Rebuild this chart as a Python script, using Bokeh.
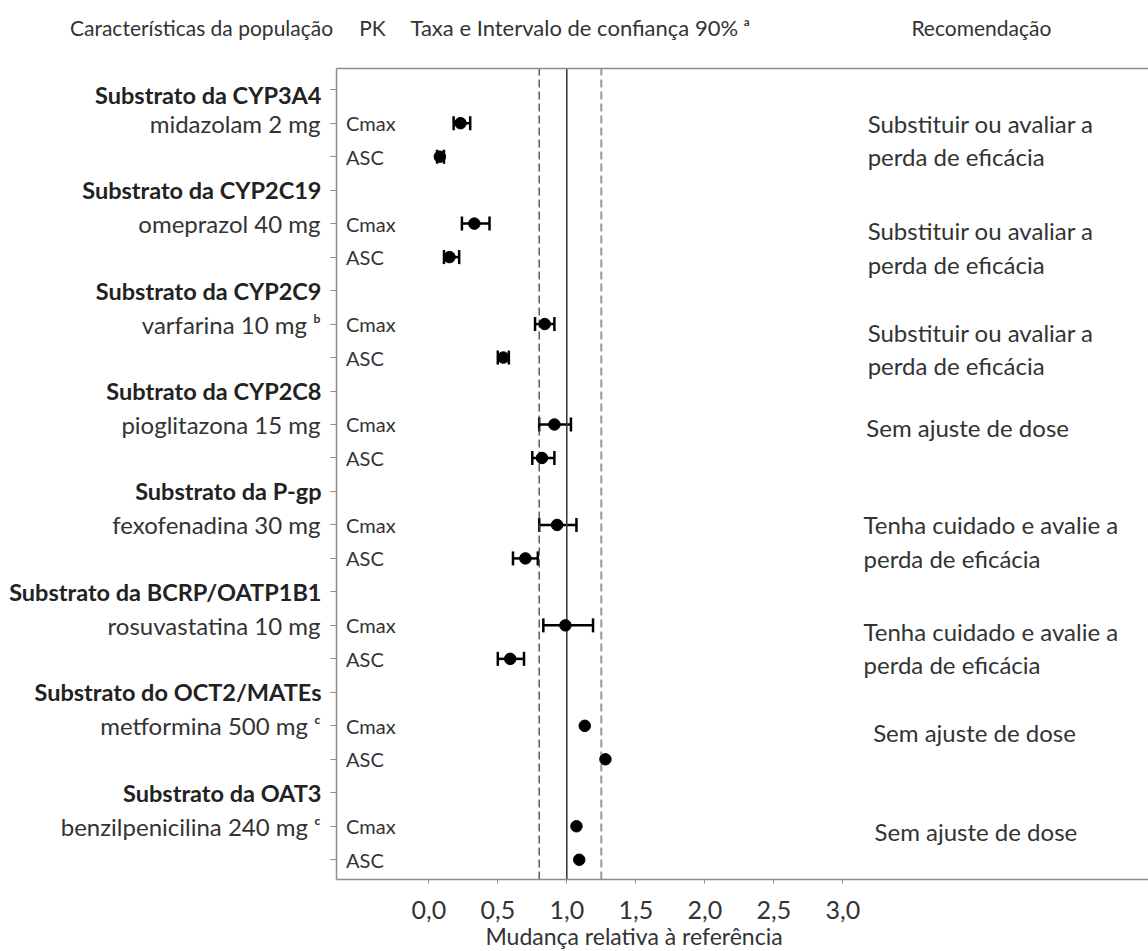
import math
from bokeh.plotting import figure
from bokeh.models import (ColumnDataSource, Range1d, FixedTicker, LinearAxis,
                          Whisker, TeeHead, CustomJSTickFormatter)
from bokeh.core.properties import value
from bokeh.embed import file_html
from bokeh.resources import INLINE

nan = float("nan")

# ---------------- data ----------------
groups = ["Substrato da CYP3A4", "Substrato da CYP2C19", "Substrato da CYP2C9",
          "Subtrato da CYP2C8", "Substrato da P-gp", "Substrato da BCRP/OATP1B1",
          "Substrato do OCT2/MATEs", "Substrato da OAT3"]
drugs = ["midazolam 2 mg", "omeprazol 40 mg", "varfarina 10 mg", "pioglitazona 15 mg",
         "fexofenadina 30 mg", "rosuvastatina 10 mg", "metformina 500 mg",
         "benzilpenicilina 240 mg"]
drug_notes = ["", "", "\u1d47", "", "", "", "\u1d9c", "\u1d9c"]
pk_params = ["Cmax", "ASC"]

cmax_ratio = [0.23, 0.33, 0.84, 0.91, 0.93, 0.99, 1.13, 1.07]
cmax_lo = [0.18, 0.24, 0.77, 0.80, 0.80, 0.83, nan, nan]
cmax_hi = [0.30, 0.44, 0.91, 1.03, 1.07, 1.19, nan, nan]
auc_ratio = [0.08, 0.15, 0.54, 0.82, 0.70, 0.59, 1.28, 1.09]
auc_lo = [0.06, 0.11, 0.50, 0.75, 0.61, 0.50, nan, nan]
auc_hi = [0.11, 0.22, 0.58, 0.91, 0.79, 0.69, nan, nan]

recommendations = [
    ["Substituir ou avaliar a", "perda de eficácia"],
    ["Substituir ou avaliar a", "perda de eficácia"],
    ["Substituir ou avaliar a", "perda de eficácia"],
    ["Sem ajuste de dose"],
    ["Tenha cuidado e avalie a", "perda de eficácia"],
    ["Tenha cuidado e avalie a", "perda de eficácia"],
    ["Sem ajuste de dose"],
    ["Sem ajuste de dose"],
]

x_ticks = [0.0, 0.5, 1.0, 1.5, 2.0, 2.5, 3.0]
ref_lines = [0.8, 1.0, 1.25]

col_headers = ["Características da população", "PK",
               "Taxa e Intervalo de confiança 90% \u1d43", "Recomendação"]
x_title = "Mudança relativa à referência"

# ---------------- layout (positions, not data) ----------------
hdr_rows = [3 * i for i in range(len(groups))]
cmax_rows = [3 * i + 1 for i in range(len(groups))]
asc_rows = [3 * i + 2 for i in range(len(groups))]
n_rows = 3 * len(groups)

BOX_L, BOX_R = -0.6688, 5.2152      # plotting box in data x
BOX_T, BOX_B = -0.633, 23.59        # plotting box in row units

rec_x = [3.18, 3.18, 3.18, 3.17, 3.15, 3.15, 3.22, 3.23]
rec_dy = [0.0, 0.21, 0.24, 0.09, 0.0, 0.18, 0.21, 0.15]
hdr_dy = [0.15, 0, 0, 0, 0, 0, 0, 0]
col_header_x = [-2.60, -0.504, -0.133, 3.497]
col_header_size = ["21px", "21px", "22px", "21px"]
col_header_y = -1.858
pk_x = -0.60
group_label_x = -0.7775
title_x, title_y = 1.487, 25.29

FONT = "Lato"
TXT = "#333333"
AX = "#8c8c8c"

p = figure(width=1148, height=951, output_backend="svg", toolbar_location=None,
           x_range=Range1d(-3.1036, 5.2152), y_range=Range1d(25.741, -2.6643),
           min_border_left=0, min_border_right=0, min_border_top=0,
           min_border_bottom=0)
p.outline_line_color = None
p.xgrid.visible = False
p.ygrid.visible = False

# x axis (drawn at the bottom of the plotting box)
xa = p.xaxis[0]
xa.fixed_location = BOX_B
xa.bounds = (BOX_L, BOX_R)
xa.ticker = FixedTicker(ticks=x_ticks)
xa.formatter = CustomJSTickFormatter(code="return tick.toFixed(1).replace('.', ',');")
xa.major_label_text_font = FONT
xa.major_label_text_font_size = "25px"
xa.major_label_text_color = TXT
xa.major_tick_out = 4
xa.major_tick_in = 0
xa.minor_tick_line_color = None
xa.major_tick_line_color = AX
xa.axis_line_color = AX
xa.axis_line_width = 1.5
xa.major_label_standoff = 18

# y axis with drug names
ya = p.yaxis[0]
ya.fixed_location = BOX_L
ya.bounds = (BOX_T, BOX_B)
ya.ticker = FixedTicker(ticks=list(range(n_rows)))
overrides = {}
for r in range(n_rows):
    overrides[r] = ""
for i, r in enumerate(cmax_rows):
    overrides[r] = drugs[i] + ((" " + drug_notes[i]) if drug_notes[i] else "")
ya.major_label_overrides = overrides
ya.major_label_text_font = FONT
ya.major_label_text_font_size = "24px"
ya.major_label_text_color = TXT
ya.major_tick_out = 6
ya.major_tick_in = 0
ya.minor_tick_line_color = None
ya.major_tick_line_color = AX
ya.axis_line_color = AX
ya.axis_line_width = 1.5
ya.major_label_standoff = 10

# top border of the plotting box
top = LinearAxis(fixed_location=BOX_T, bounds=(BOX_L, BOX_R),
                 ticker=FixedTicker(ticks=[]), axis_line_color=AX, axis_line_width=1.5,
                 major_tick_line_color=None, minor_tick_line_color=None,
                 major_label_text_font_size="0px")
p.add_layout(top, "above")

# reference lines
p.segment(x0=[ref_lines[0]], y0=[BOX_B], x1=[ref_lines[0]], y1=[BOX_T],
          line_color="#444444", line_width=1.3, line_dash="8 4")
p.segment(x0=[ref_lines[1]], y0=[BOX_B], x1=[ref_lines[1]], y1=[BOX_T],
          line_color="#333333", line_width=1.5)
p.segment(x0=[ref_lines[2]], y0=[BOX_B], x1=[ref_lines[2]], y1=[BOX_T],
          line_color="#999999", line_width=2, line_dash="8 4")

# error bars
wy, wlo, whi = [], [], []
for i in range(len(groups)):
    if not math.isnan(cmax_lo[i]):
        wy.append(cmax_rows[i]); wlo.append(cmax_lo[i]); whi.append(cmax_hi[i])
    if not math.isnan(auc_lo[i]):
        wy.append(asc_rows[i]); wlo.append(auc_lo[i]); whi.append(auc_hi[i])
wsrc = ColumnDataSource(dict(y=wy, lo=wlo, hi=whi))
p.add_layout(Whisker(source=wsrc, base="y", lower="lo", upper="hi", dimension="width",
                     line_color="black", line_width=2.5,
                     lower_head=TeeHead(size=14, line_width=2.5, line_color="black"),
                     upper_head=TeeHead(size=14, line_width=2.5, line_color="black")))

# points
psrc = ColumnDataSource(dict(x=cmax_ratio + auc_ratio, y=cmax_rows + asc_rows))
p.scatter(x="x", y="y", source=psrc, size=11.5, color="black")

# PK labels
p.text(x=[pk_x] * (2 * len(groups)), y=cmax_rows + asc_rows,
       text=[pk_params[0]] * len(groups) + [pk_params[1]] * len(groups),
       text_font=value(FONT), text_font_size="20px", text_color=TXT,
       text_baseline="middle", text_align="left")

# recommendations
rx, ry, rt = [], [], []
for i, rec in enumerate(recommendations):
    rows = [cmax_rows[i], asc_rows[i]]
    for j, line in enumerate(rec):
        rx.append(rec_x[i]); ry.append(rows[j] + rec_dy[i]); rt.append(line)
p.text(x=rx, y=ry, text=rt, text_font=value(FONT), text_font_size="24px",
       text_color=TXT, text_baseline="middle", text_align="left")

# group headers (bold, left column)
p.text(x=[group_label_x] * len(groups), y=[r + d for r, d in zip(hdr_rows, hdr_dy)],
       text=groups, text_font=value(FONT), text_font_size="23.5px",
       text_font_style="bold", text_color="#222222", text_baseline="middle",
       text_align="right")

# column headers
hsrc = ColumnDataSource(dict(x=col_header_x, y=[col_header_y] * len(col_headers),
                             text=col_headers, size=col_header_size))
p.text(x="x", y="y", text="text", source=hsrc, text_font=value(FONT),
       text_font_size="size", text_color=TXT, text_baseline="middle",
       text_align="left")

# x axis title
p.text(x=[title_x], y=[title_y], text=[x_title], text_font=value(FONT),
       text_font_size="23px", text_color=TXT, text_baseline="middle",
       text_align="center")

open("out.html", "w").write(file_html(p, INLINE))
